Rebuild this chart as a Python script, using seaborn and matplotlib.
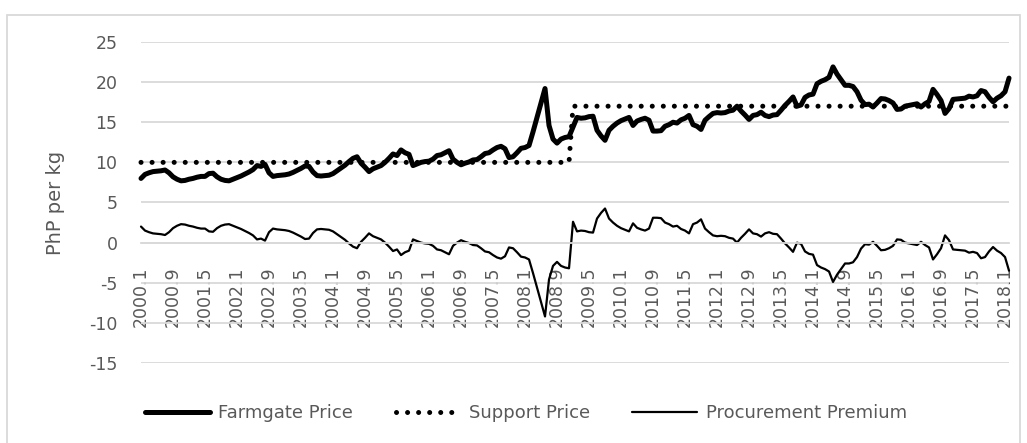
import matplotlib
matplotlib.use("Agg")
import matplotlib.pyplot as plt
import numpy as np
import pandas as pd
import seaborn as sns
from matplotlib.patches import Rectangle

# monthly farmgate price, PhP per kg (2000.1 .. 2018.2)
farmgate = [
    8.0, 8.5, 8.7, 8.85, 8.9, 8.95, 9.05, 8.7, 8.2, 7.9, 7.7, 7.75,
    7.9, 8.0, 8.15, 8.25, 8.25, 8.6, 8.65, 8.2, 7.9, 7.75, 7.7, 7.9,
    8.1, 8.3, 8.55, 8.8, 9.1, 9.6, 9.5, 9.75, 8.7, 8.25, 8.35, 8.4,
    8.45, 8.55, 8.75, 9.0, 9.25, 9.55, 9.5, 8.8, 8.35, 8.3, 8.35, 8.4,
    8.6, 8.95, 9.3, 9.65, 10.1, 10.5, 10.7, 9.9, 9.4, 8.85, 9.2, 9.4,
    9.6, 10.0, 10.5, 11.05, 10.85, 11.55, 11.2, 11.0, 9.6, 9.8, 10.0, 10.1,
    10.15, 10.4, 10.85, 10.95, 11.2, 11.45, 10.4, 10.0, 9.7, 9.9, 10.05, 10.3,
    10.35, 10.7, 11.1, 11.2, 11.55, 11.85, 12.0, 11.7, 10.6, 10.7, 11.2, 11.75,
    11.85, 12.1, 13.8, 15.6, 17.4, 19.2, 14.6, 12.9, 12.4, 12.9, 13.1, 13.2,
    14.4, 15.6, 15.5, 15.55, 15.7, 15.75, 14.0, 13.3, 12.75, 14.0, 14.5, 14.9,
    15.2, 15.4, 15.6, 14.6, 15.15, 15.35, 15.5, 15.25, 13.9, 13.9, 13.95, 14.5,
    14.7, 15.0, 14.9, 15.3, 15.5, 15.85, 14.7, 14.5, 14.1, 15.25, 15.7, 16.1,
    16.2, 16.15, 16.2, 16.4, 16.5, 17.0, 16.4, 15.9, 15.35, 15.85, 15.95, 16.25,
    15.85, 15.7, 15.9, 15.95, 16.5, 17.1, 17.6, 18.15, 17.0, 17.15, 18.1, 18.4,
    18.5, 19.8, 20.1, 20.3, 20.6, 21.9, 21.0, 20.3, 19.6, 19.6, 19.45, 18.8,
    17.75, 17.2, 17.25, 16.9, 17.4, 17.95, 17.9, 17.7, 17.4, 16.6, 16.65, 17.0,
    17.1, 17.2, 17.3, 16.9, 17.3, 17.6, 19.1, 18.45, 17.7, 16.1, 16.7, 17.85,
    17.9, 17.95, 18.0, 18.25, 18.15, 18.3, 18.95, 18.8, 18.1, 17.55, 18.0, 18.3,
    18.8, 20.5,
]
# support price: 10 up to 2008.12, 17 from 2009.1
support = [10.0] * 108 + [17.0] * 110

tick_labels = ["2000.1", "2000.9", "2001.5", "2002.1", "2002.9", "2003.5", "2004.1",
               "2004.9", "2005.5", "2006.1", "2006.9", "2007.5", "2008.1", "2008.9",
               "2009.5", "2010.1", "2010.9", "2011.5", "2012.1", "2012.9", "2013.5",
               "2014.1", "2014.9", "2015.5", "2016.1", "2016.9", "2017.5", "2018.1"]

months = [f"{2000 + k // 12}.{k % 12 + 1}" for k in range(len(farmgate))]
df = pd.DataFrame({"month": months, "Farmgate Price": farmgate, "Support Price": support})
# premium = support price minus farmgate price
df["Procurement Premium"] = df["Support Price"] - df["Farmgate Price"]
df["pos"] = np.arange(len(df))

sns.set_style("white")
plt.rcParams["font.family"] = ["DejaVu Sans"]
plt.rcParams["axes.unicode_minus"] = False
txt = "#595959"
grid = "#d9d9d9"

fig = plt.figure(figsize=(10.27, 4.43), dpi=100)
ax = fig.add_axes([0.1373, 0.1806, 0.8452, 0.7246])

sns.lineplot(data=df, x="pos", y="Farmgate Price", ax=ax, color="black", lw=3.6,
             label="Farmgate Price", solid_joinstyle="round")
sns.lineplot(data=df, x="pos", y="Support Price", ax=ax, color="black", lw=3.6,
             linestyle=(0, (0.01, 2.2)), dash_capstyle="round", label="Support Price")
sns.lineplot(data=df, x="pos", y="Procurement Premium", ax=ax, color="black", lw=1.6,
             label="Procurement Premium")
for ln in ax.lines:
    ln.set_clip_on(False)

# x axis crosses at 0 (set before ticks, it resets them)
for s in ["top", "right", "left"]:
    ax.spines[s].set_visible(False)
ax.spines["bottom"].set_position(("data", 0))
ax.spines["bottom"].set_color(grid)
ax.spines["bottom"].set_linewidth(1.3)

ax.set_xlim(0, len(df) - 1)
ax.set_ylim(-15, 25)
ax.set_yticks(range(-15, 26, 5))
ax.yaxis.grid(True, color=grid, lw=1.3)
ax.set_axisbelow(True)

tick_pos = df.loc[df["month"].isin(tick_labels), "pos"].tolist()
ax.set_xticks(tick_pos)
ax.set_xticklabels(tick_labels)

ax.tick_params(axis="x", length=0, pad=17, labelsize=12.5, labelcolor=txt, labelrotation=90)
ax.tick_params(axis="y", length=0, pad=17, labelsize=12.5, labelcolor=txt)
ax.set_xlabel("")
ax.set_ylabel("PhP per kg", fontsize=14, color=txt)
ax.yaxis.set_label_coords(-0.0875, 0.5)

leg = ax.legend(loc="center", bbox_to_anchor=(526 / 1027, 1 - 413 / 443),
                bbox_transform=fig.transFigure, ncol=3, frameon=False,
                handlelength=3.6, handletextpad=0.45, columnspacing=2.35, fontsize=13)
for t in leg.get_texts():
    t.set_color(txt)

# light chart-area border
fig.patches.append(Rectangle((7 / 1027, -0.01), 1013 / 1027, 1 - 15 / 443 + 0.01,
                             transform=fig.transFigure, fill=False, edgecolor=grid, lw=1.3))

fig.savefig("out.png", dpi=100)
